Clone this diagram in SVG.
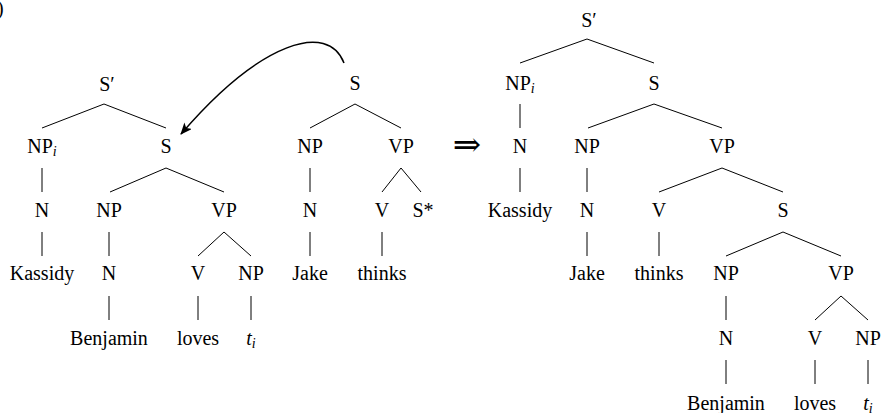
<svg xmlns="http://www.w3.org/2000/svg" width="881" height="413" viewBox="0 0 881 413">
<defs>
<style>
text{font-size:20px;fill:#000;text-anchor:middle}
.sub{font-size:14px;font-style:italic}
.it{font-style:italic}
.e line{stroke:#000;stroke-width:1}
.arr{fill:none;stroke:#000;stroke-width:1.5}
</style>
<marker id="ah" viewBox="0 0 12 10" refX="11" refY="5" markerWidth="12" markerHeight="10" markerUnits="userSpaceOnUse" orient="auto">
<path d="M0,0 L12,5 L0,10 L3,5 Z" fill="#000"/>
</marker>
</defs>
<rect width="881" height="413" fill="#fff"/>
<g font-family="Liberation Serif, 'Times New Roman', 'DejaVu Serif', serif">
<text x="-3" y="15" style="text-anchor:start">)</text>

<g id="connectors" class="e">
<line x1="104" y1="104" x2="42" y2="128"/><line x1="104" y1="104" x2="166" y2="128"/>
<line x1="42" y1="168" x2="42" y2="192"/>
<line x1="166" y1="168" x2="110" y2="192"/><line x1="166" y1="168" x2="224" y2="192"/>
<line x1="42" y1="232" x2="42" y2="256"/>
<line x1="109" y1="232" x2="109" y2="256"/>
<line x1="224" y1="232" x2="198" y2="256"/><line x1="224" y1="232" x2="251" y2="256"/>
<line x1="109" y1="296" x2="109" y2="320"/>
<line x1="198" y1="296" x2="198" y2="320"/>
<line x1="251" y1="296" x2="251" y2="320"/>
<line x1="355" y1="104" x2="310" y2="128"/><line x1="355" y1="104" x2="401" y2="128"/>
<line x1="310" y1="168" x2="310" y2="192"/>
<line x1="401" y1="168" x2="382" y2="192"/><line x1="401" y1="168" x2="421" y2="192"/>
<line x1="310" y1="232" x2="310" y2="256"/>
<line x1="382" y1="232" x2="382" y2="256"/>
<line x1="587" y1="39" x2="520" y2="63"/><line x1="587" y1="39" x2="654" y2="63"/>
<line x1="520" y1="104" x2="520" y2="128"/>
<line x1="654" y1="104" x2="588" y2="128"/><line x1="654" y1="104" x2="722" y2="128"/>
<line x1="520" y1="168" x2="520" y2="192"/>
<line x1="587" y1="168" x2="587" y2="192"/>
<line x1="722" y1="168" x2="659" y2="192"/><line x1="722" y1="168" x2="783" y2="192"/>
<line x1="587" y1="232" x2="587" y2="256"/>
<line x1="659" y1="232" x2="659" y2="256"/>
<line x1="783" y1="232" x2="726" y2="256"/><line x1="783" y1="232" x2="841" y2="256"/>
<line x1="726" y1="296" x2="726" y2="320"/>
<line x1="841" y1="296" x2="815" y2="320"/><line x1="841" y1="296" x2="868" y2="320"/>
<line x1="726" y1="360" x2="726" y2="384"/>
<line x1="815" y1="360" x2="815" y2="384"/>
<line x1="868" y1="360" x2="868" y2="384"/>
<path class="arr" d="M344,63 C328,22 262,40 181,134" marker-end="url(#ah)"/>
</g>

<g id="L-Sbar"><text x="107" y="91">S′</text></g>
<g id="L-NPi"><text x="42" y="153">NP<tspan class="sub" dy="3">i</tspan></text></g>
<g id="L-S"><text x="166" y="153">S</text></g>
<g id="L-N1"><text x="42" y="217">N</text></g>
<g id="L-NP"><text x="109" y="217">NP</text></g>
<g id="L-VP"><text x="224" y="217">VP</text></g>
<g id="L-Kassidy"><text x="42" y="280">Kassidy</text></g>
<g id="L-N2"><text x="109" y="280">N</text></g>
<g id="L-V"><text x="198" y="280">V</text></g>
<g id="L-NP2"><text x="251" y="280">NP</text></g>
<g id="L-Benjamin"><text x="109" y="345">Benjamin</text></g>
<g id="L-loves"><text x="198" y="345">loves</text></g>
<g id="L-ti"><text x="251" y="345"><tspan class="it">t</tspan><tspan class="sub" dy="3">i</tspan></text></g>

<g id="M-S"><text x="355" y="90">S</text></g>
<g id="M-NP"><text x="310" y="153">NP</text></g>
<g id="M-VP"><text x="401" y="153">VP</text></g>
<g id="M-N"><text x="310" y="217">N</text></g>
<g id="M-V"><text x="382" y="217">V</text></g>
<g id="M-Sstar"><text x="423" y="217">S*</text></g>
<g id="M-Jake"><text x="310" y="280">Jake</text></g>
<g id="M-thinks"><text x="382" y="280">thinks</text></g>

<g id="implies"><text x="467" y="156" style="font-size:34px">⇒</text></g>

<g id="R-Sbar"><text x="589" y="27">S′</text></g>
<g id="R-NPi"><text x="520" y="90">NP<tspan class="sub" dy="3">i</tspan></text></g>
<g id="R-S"><text x="654" y="90">S</text></g>
<g id="R-N1"><text x="520" y="153">N</text></g>
<g id="R-NP"><text x="587" y="153">NP</text></g>
<g id="R-VP"><text x="722" y="153">VP</text></g>
<g id="R-Kassidy"><text x="520" y="217">Kassidy</text></g>
<g id="R-N2"><text x="587" y="217">N</text></g>
<g id="R-V"><text x="659" y="217">V</text></g>
<g id="R-S2"><text x="783" y="217">S</text></g>
<g id="R-Jake"><text x="587" y="280">Jake</text></g>
<g id="R-thinks"><text x="659" y="280">thinks</text></g>
<g id="R-NP2"><text x="726" y="280">NP</text></g>
<g id="R-VP2"><text x="841" y="280">VP</text></g>
<g id="R-N3"><text x="726" y="345">N</text></g>
<g id="R-V2"><text x="815" y="345">V</text></g>
<g id="R-NP3"><text x="868" y="345">NP</text></g>
<g id="R-Benjamin"><text x="726" y="410">Benjamin</text></g>
<g id="R-loves"><text x="815" y="410">loves</text></g>
<g id="R-ti"><text x="868" y="410"><tspan class="it">t</tspan><tspan class="sub" dy="3">i</tspan></text></g>
</g>
</svg>
